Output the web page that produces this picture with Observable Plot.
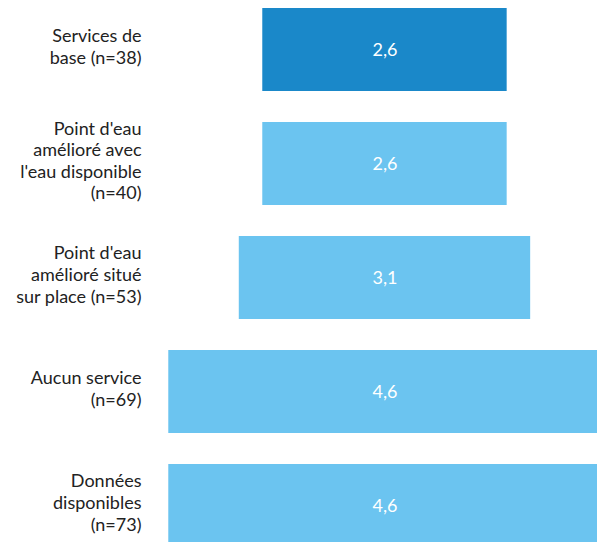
<!DOCTYPE html>
<html><head><meta charset="utf-8">
<script src="https://cdn.jsdelivr.net/npm/d3@7"></script>
<script src="https://cdn.jsdelivr.net/npm/@observablehq/plot@0.6"></script>
<style>body{margin:0;background:#fff;overflow:hidden}</style>
</head><body><div id="chart"></div>
<script>
const categories = [
  "Services de\nbase (n=38)",
  "Point d'eau\namélioré avec\nl'eau disponible\n(n=40)",
  "Point d'eau\namélioré situé\nsur place (n=53)",
  "Aucun service\n(n=69)",
  "Données\ndisponibles\n(n=73)"
];
const values = [2.6, 2.6, 3.1, 4.6, 4.6];
const valueLabels = ["2,6", "2,6", "3,1", "4,6", "4,6"];
const highlight = [true, false, false, false, false];

const data = categories.map((c, i) => ({cat: c, v: values[i], lab: valueLabels[i], hi: highlight[i]}));

const chart = Plot.plot({
  width: 597, height: 542,
  marginLeft: 168, marginRight: 0, marginTop: 0, marginBottom: 0,
  style: {fontFamily: "Lato, sans-serif", background: "#fff", overflow: "visible"},
  x: {domain: [-2.303, 2.261], axis: null},
  y: {domain: categories, range: [0, 554], paddingInner: 0.273, paddingOuter: 0.0613, axis: null},
  marks: [
    Plot.barX(data, {y: "cat", x1: d => -d.v / 2, x2: d => d.v / 2, fill: d => d.hi ? "#1A88C9" : "#6BC4F0", clip: true}),
    Plot.text(data, {y: "cat", x: 0, text: "lab", fill: "#fff", fontSize: 18}),
    Plot.text(data, {y: "cat", frameAnchor: "left", dx: -27, dy: -4, text: "cat", textAnchor: "end", fontSize: 18, lineHeight: 1.2, fill: "#222"})
  ]
});
document.getElementById("chart").appendChild(chart);
</script></body></html>
